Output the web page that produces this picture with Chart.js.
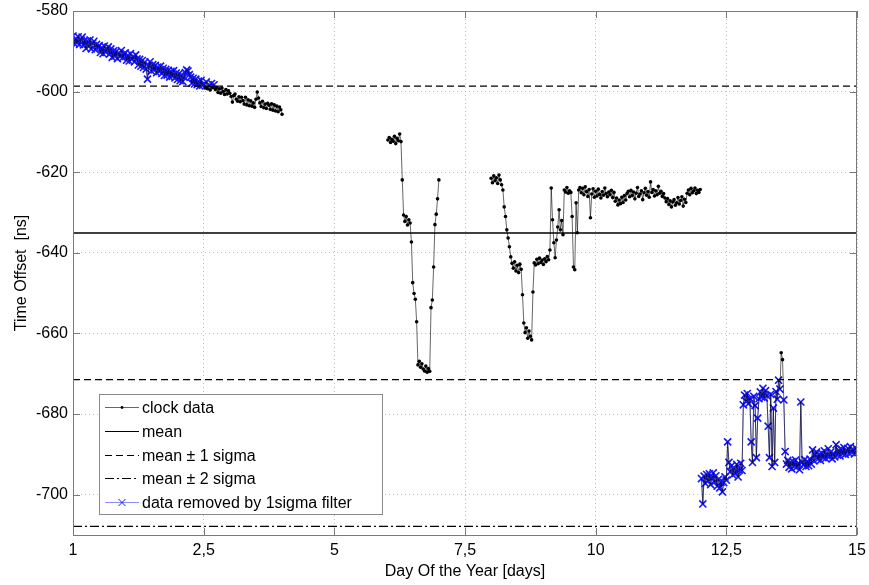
<!DOCTYPE html>
<html>
<head>
<meta charset="utf-8">
<script src="https://cdn.jsdelivr.net/npm/chart.js@4.4.0/dist/chart.umd.min.js"></script>
<style>
  html, body { margin: 0; padding: 0; background: #fff; }
  #wrap { width: 869px; height: 585px; }
</style>
</head>
<body>
<div id="wrap"><canvas id="offsetChart" width="869" height="585"></canvas></div>
<script>
const FONT = "'Liberation Sans', Arial, Helvetica, sans-serif";

// axis ticks and the text printed under/next to them
const xTickPositions = [0, 2.5, 5, 7.5, 10, 12.5, 15];
const xTickLabels = ['1', '2,5', '5', '7,5', '10', '12,5', '15'];
const yTickValues = [-700, -680, -660, -640, -620, -600, -580];

// statistics of the clock offset over the whole run [ns]
const meanOffset = -635.05;
const sigmaOffset = 36.4;

// samples are 0.025 day apart, each run has its own start day
const sampleStep = 0.025;
const runStarts = [0, 6.025, 8.0, 12.025];

const run1 = [
  -586.2,-588.1,-586.9,-587.9,-586.4,-588.3,-587.0,-586.5,-588.4,-587.3,
  -589.3,-587.4,-588.8,-587.2,-589.4,-588.0,-587.5,-589.6,-588.3,-589.0,
  -588.6,-590.3,-589.1,-590.6,-588.7,-590.2,-589.5,-588.9,-590.7,-589.4,
  -591.5,-589.9,-591.2,-590.1,-591.8,-590.4,-591.3,-589.8,-591.6,-590.7,
  -590.4,-592.2,-591.0,-592.4,-590.6,-592.0,-591.3,-592.6,-590.9,-591.9,
  -593.4,-592.0,-593.7,-592.3,-594.0,-592.7,-594.4,-596.9,-593.5,-592.6,
  -594.9,-593.3,-594.6,-593.5,-595.3,-593.9,-595.0,-593.7,-595.5,-594.2,
  -596.0,-594.5,-595.9,-594.7,-596.4,-595.0,-596.2,-594.8,-596.6,-595.4,
  -597.0,-595.6,-597.3,-595.9,-597.5,-596.4,-595.3,-594.6,-594.9,-595.8,
  -596.4,-597.9,-596.7,-598.1,-596.9,-598.3,-597.4,-598.6,-597.2,-598.4,
  -598.2,-599.1,-597.6,-599.3,-598.4,-599.6,-598.0,-599.0,-598.3,-599.5,
  -599.0,-600.2,-599.3,-600.4,-599.1,-600.0,-600.7,-599.5,-600.6,-599.8,
  -600.4,-601.2,-602.6,-601.0,-600.6,-601.9,-602.4,-601.3,-602.5,-601.4,
  -602.2,-603.1,-601.4,-603.3,-602.0,-603.5,-602.3,-603.6,-602.8,-603.9,
  -601.9,-600.1,-601.6,-602.8,-603.7,-602.4,-604.0,-603.1,-604.2,-602.9,
  -603.4,-604.4,-603.0,-604.6,-603.3,-604.8,-603.6,-605.0,-603.8,-604.5,
  -605.6
];

const run2 = [
  -612.0,-611.4,-612.6,-611.8,-612.3,-611.1,-612.9,-611.6,-612.2,-610.5,-612.4,
  -621.9,-630.6,-632.2,-631.0,-633.1,-631.8,-632.6,-637.3,-647.4,-650.1,-651.5,-657.1,
  -667.8,-666.9,-668.4,-667.5,-668.8,-669.3,-668.1,-669.6,-668.7,-669.4,
  -653.6,-651.7,-643.5,-633.0,-630.4,-626.6,-621.9
];

const run3 = [
  -621.5,-622.6,-620.9,-622.1,-621.4,-622.8,-620.7,-621.9,-623.1,-624.4,
  -628.6,-631.0,-634.3,-636.3,-638.5,-641.0,-642.6,-643.8,-642.2,-644.5,
  -643.1,-644.9,-642.8,-644.1,-650.4,-657.4,-659.8,-658.6,-661.2,-659.4,
  -660.7,-661.6,-649.7,-642.5,-643.0,-641.6,-642.7,-641.3,-642.4,-641.8,
  -642.9,-641.5,-642.2,-640.9,-641.7,-639.3,-623.9,-631.8,-637.5,-641.2,
  -636.8,-633.6,-629.3,-634.3,-632.0,-635.5,-624.4,-624.9,-623.8,-625.2,
  -624.6,-625.0,-631.0,-643.5,-644.2,-627.6,-635.0,-624.4,-623.8,-625.1,
  -624.0,-625.6,-623.6,-624.8,-626.0,-624.3,-631.3,-625.4,-624.1,-626.2,
  -624.7,-625.9,-624.2,-625.5,-626.4,-624.8,-625.7,-623.9,-625.3,-626.1,
  -624.9,-625.6,-624.5,-626.3,-625.0,-627.2,-626.4,-628.1,-626.9,-627.8,
  -626.2,-627.5,-625.8,-626.9,-625.3,-624.7,-626.1,-624.5,-625.8,-624.9,
  -626.6,-625.2,-623.8,-626.0,-625.4,-624.6,-626.8,-625.1,-624.0,-625.7,
  -624.8,-626.2,-622.4,-625.0,-624.3,-625.9,-624.6,-625.6,-623.5,-625.2,
  -624.7,-626.0,-625.3,-626.4,-627.3,-626.5,-628.0,-627.1,-628.6,-627.4,
  -626.8,-628.2,-627.6,-626.3,-627.9,-627.0,-626.1,-628.4,-626.7,-627.5,
  -625.2,-624.4,-625.6,-624.0,-625.1,-624.6,-623.9,-625.3,-624.5,-625.0,
  -624.3
];

const run4 = [
  -696.0,-702.3,-695.4,-697.2,-695.0,-696.6,-694.8,-697.5,-695.9,-694.6,
  -696.8,-695.3,-697.9,-696.2,-698.3,-696.9,-699.3,-697.0,-695.6,-696.4,
  -686.9,-692.0,-694.3,-692.8,-695.1,-693.4,-694.7,-692.5,-695.6,-693.9,
  -692.2,-694.0,-677.7,-675.3,-676.8,-674.9,-677.4,-676.1,-686.9,-692.0,
  -675.6,-677.9,-690.8,-681.0,-676.2,-674.5,-675.8,-673.6,-676.0,-674.2,
  -675.4,-683.0,-690.8,-675.1,-693.0,-678.5,-692.0,-674.4,-676.3,-671.6,
  -673.8,-664.8,-666.5,-676.5,-689.3,-692.4,-691.5,-693.2,-692.0,-693.6,
  -691.8,-692.9,-691.4,-693.1,-692.3,-693.8,-677.0,-691.9,-692.6,-691.3,
  -693.0,-691.7,-692.8,-691.2,-692.4,-688.9,-691.6,-690.1,-689.4,-691.2,
  -690.0,-691.5,-689.7,-690.8,-689.1,-691.0,-690.3,-688.6,-690.5,-689.4,
  -691.1,-689.8,-690.6,-687.6,-690.2,-689.0,-690.4,-688.7,-689.9,-688.3,
  -690.0,-689.2,-688.5,-689.7,-688.1,-689.5,-688.8,-689.9,-688.4,-689.1
];

const legendLabels = [
  'clock data',
  'mean',
  'mean \u00b1 1 sigma',
  'mean \u00b1 2 sigma',
  'data removed by 1sigma filter'
];

// join the runs into one series, with a gap between runs
const runs = [run1, run2, run3, run4];
const clockPoints = [];
runs.forEach((vals, r) => {
  if (r > 0) clockPoints.push({ x: runStarts[r] - sampleStep / 2, y: null });
  vals.forEach((v, i) => {
    clockPoints.push({ x: +(runStarts[r] + i * sampleStep).toFixed(3), y: v });
  });
});

const upper1 = meanOffset + sigmaOffset;
const lower1 = meanOffset - sigmaOffset;
const lower2 = meanOffset - 2 * sigmaOffset;

const isRemoved = y => y !== null && (y > upper1 || y < lower1);

// samples outside mean +- 1 sigma
const removedPoints = clockPoints.map(p => ({ x: p.x, y: isRemoved(p.y) ? p.y : null }));

const hline = v => [{ x: 0, y: v }, { x: 15, y: v }];

const axesBox = {
  id: 'axesBox',
  afterDraw(chart) {
    const { ctx, chartArea: a, scales } = chart;
    ctx.save();
    ctx.strokeStyle = '#7a7a7a';
    ctx.lineWidth = 1;
    ctx.strokeRect(a.left + 0.5, a.top + 0.5, a.right - a.left - 1, a.bottom - a.top);
    const len = 7;
    ctx.beginPath();
    xTickPositions.forEach(v => {
      const x = Math.round(scales.x.getPixelForValue(v)) + 0.5;
      ctx.moveTo(x, a.bottom); ctx.lineTo(x, a.bottom - len);
      ctx.moveTo(x, a.top); ctx.lineTo(x, a.top + len);
    });
    yTickValues.forEach(v => {
      const y = Math.round(scales.y.getPixelForValue(v)) + 0.5;
      ctx.moveTo(a.left, y); ctx.lineTo(a.left + len, y);
      ctx.moveTo(a.right, y); ctx.lineTo(a.right - len, y);
    });
    ctx.stroke();
    ctx.restore();
  }
};

const legendBox = {
  id: 'legendBox',
  afterDraw(chart) {
    const { ctx } = chart;
    const ds = chart.data.datasets;
    const entries = [4, 0, 1, 3, 5];
    const left = 99.5, top = 394.5, width = 283, height = 120;
    ctx.save();
    ctx.fillStyle = '#fff';
    ctx.fillRect(left, top, width, height);
    ctx.strokeStyle = '#8a8a8a';
    ctx.lineWidth = 1;
    ctx.strokeRect(left, top, width, height);
    ctx.font = '16px ' + FONT;
    ctx.textBaseline = 'middle';
    entries.forEach((di, k) => {
      const d = ds[di];
      const y = Math.round(407 + k * 23.8) + 0.5;
      ctx.strokeStyle = d.borderColor;
      ctx.lineWidth = 1;
      ctx.setLineDash(d.borderDash || []);
      ctx.beginPath();
      ctx.moveTo(105, y); ctx.lineTo(139, y);
      ctx.stroke();
      ctx.setLineDash([]);
      const mx = 122;
      if (d.pointStyle === 'crossRot') {
        ctx.strokeStyle = d.pointBorderColor;
        ctx.beginPath();
        ctx.moveTo(mx - 3.5, y - 3.5); ctx.lineTo(mx + 3.5, y + 3.5);
        ctx.moveTo(mx - 3.5, y + 3.5); ctx.lineTo(mx + 3.5, y - 3.5);
        ctx.stroke();
      } else if (di === 4) {
        ctx.fillStyle = d.pointBackgroundColor;
        ctx.beginPath();
        ctx.arc(mx, y, 1.4, 0, Math.PI * 2);
        ctx.fill();
      }
      ctx.fillStyle = '#000';
      ctx.fillText(legendLabels[k], 142, y + 1);
    });
    ctx.restore();
  }
};

new Chart(document.getElementById('offsetChart'), {
  type: 'line',
  data: {
    datasets: [
      { label: 'mean', data: hline(meanOffset), borderColor: '#000', borderWidth: 1.5, pointRadius: 0 },
      { label: 'mean + 1 sigma', data: hline(upper1), borderColor: '#000', borderWidth: 1.3, borderDash: [7, 4], pointRadius: 0 },
      { label: 'mean - 1 sigma', data: hline(lower1), borderColor: '#000', borderWidth: 1.3, borderDash: [7, 4], pointRadius: 0 },
      { label: 'mean - 2 sigma', data: hline(lower2), borderColor: '#000', borderWidth: 1.3, borderDash: [9, 3, 2, 3], pointRadius: 0 },
      {
        label: 'clock data',
        data: clockPoints,
        borderColor: 'rgba(0,0,0,0.6)',
        borderWidth: 1,
        // removed samples get the blue cross instead of the dot
        pointRadius: c => (c.raw && isRemoved(c.raw.y)) ? 0 : 1.8,
        pointBackgroundColor: '#000',
        pointBorderWidth: 0
      },
      {
        label: 'data removed by 1sigma filter',
        data: removedPoints,
        borderColor: '#8c8cff',
        borderWidth: 1,
        pointStyle: 'crossRot',
        pointRadius: 5,
        pointBorderColor: '#1515ff',
        pointBackgroundColor: '#1515ff',
        pointBorderWidth: 1.6
      }
    ]
  },
  options: {
    responsive: false,
    animation: false,
    events: [],
    spanGaps: false,
    elements: { line: { tension: 0 } },
    layout: { padding: { top: 11, right: 12, left: 0, bottom: 0 } },
    plugins: { legend: { display: false }, tooltip: { enabled: false } },
    scales: {
      x: {
        type: 'linear',
        min: 0,
        max: 15,
        afterBuildTicks: s => { s.ticks = xTickPositions.map(v => ({ value: v })); },
        afterFit: s => { s.height = 50; s.paddingLeft = 0; s.paddingRight = 0; },
        ticks: {
          autoSkip: false,
          maxRotation: 0,
          padding: 6,
          color: '#000',
          font: { family: FONT, size: 16 },
          callback: (v, i) => xTickLabels[i]
        },
        grid: { color: '#bdbdbd', drawTicks: false },
        border: { display: false, dash: [1, 3] },
        title: {
          display: true,
          text: 'Day Of the Year [days]',
          color: '#000',
          font: { family: FONT, size: 16 },
          padding: { top: 0, bottom: 4 }
        }
      },
      y: {
        min: -710,
        max: -580,
        afterBuildTicks: s => { s.ticks = yTickValues.map(v => ({ value: v })); },
        afterFit: s => { s.width = 73; s.paddingTop = 0; s.paddingBottom = 0; },
        ticks: {
          padding: 5,
          color: '#000',
          font: { family: FONT, size: 16 },
          callback: v => String(v)
        },
        grid: { color: '#bdbdbd', drawTicks: false },
        border: { display: false, dash: [1, 3] },
        title: {
          display: true,
          text: 'Time Offset  [ns]',
          color: '#000',
          font: { family: FONT, size: 16 },
          padding: { top: 12, bottom: 0 }
        }
      }
    }
  },
  plugins: [axesBox, legendBox]
});
</script>
</body>
</html>
